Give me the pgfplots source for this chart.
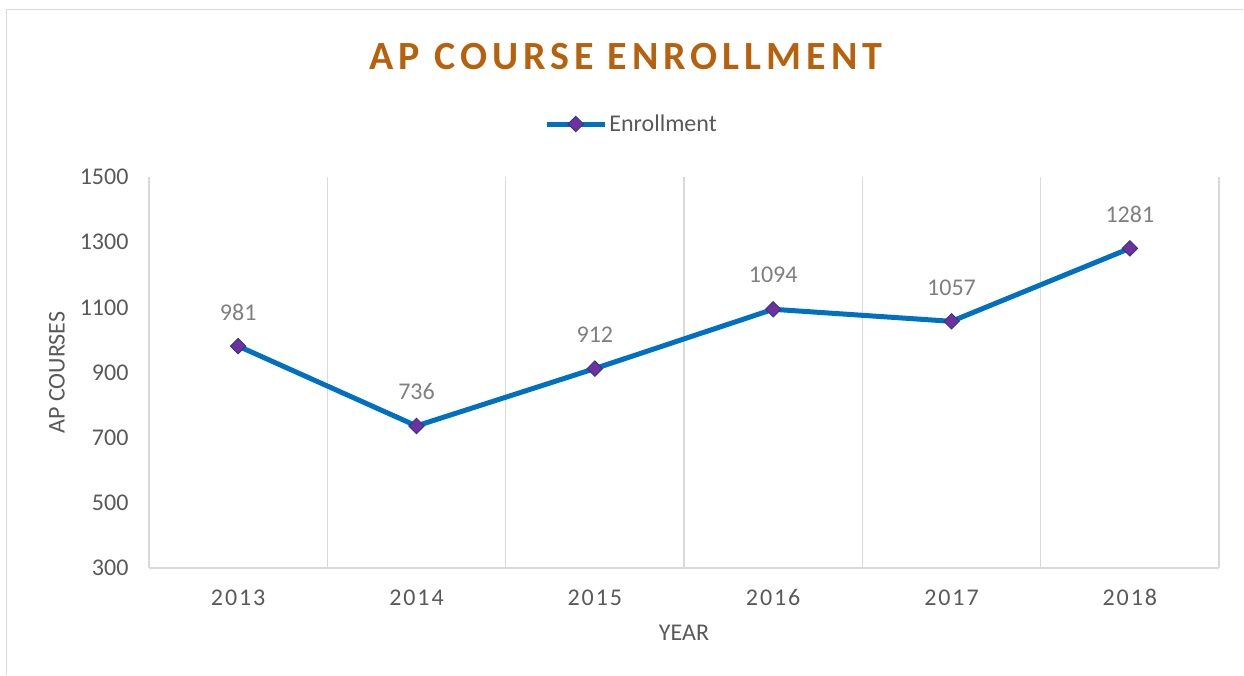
\documentclass[border=0pt]{standalone}
\usepackage{fontspec}
\setmainfont{Carlito}
\newfontfamily\titlefont[LetterSpace=12.5]{Carlito}
\newfontfamily\spacedfont[LetterSpace=8]{Carlito}
\usepackage{pgfplots}
\pgfplotsset{compat=1.18}
\definecolor{linec}{HTML}{0070C0}
\definecolor{markc}{HTML}{7030A0}
\definecolor{markedge}{HTML}{2E3A87}
\definecolor{titlec}{HTML}{B7610C}
\definecolor{gridc}{HTML}{D9D9D9}
\definecolor{textc}{HTML}{595959}
\definecolor{labelc}{HTML}{7F7F7F}

\begin{document}
\begin{tikzpicture}[x=1bp,y=1bp]
\path (0,0) rectangle (1244,675);
\draw[gridc,line width=1.5bp] (6.5,0) -- (6.5,665.5) -- (1243,665.5);
\node[anchor=base,text=titlec,font=\titlefont\bfseries\fontsize{40bp}{48bp}\selectfont] at (626,605) {AP COURSE ENROLLMENT};
\begin{axis}[
  at={(149bp,107bp)},anchor=south west,
  scale only axis,width=1070bp,height=391bp,
  xmin=-0.5,xmax=5.5,ymin=300,ymax=1500,
  xtick={0,1,2,3,4,5},
  xticklabels={2013,2014,2015,2016,2017,2018},
  ytick={300,500,700,900,1100,1300,1500},
  minor xtick={-0.5,0.5,1.5,2.5,3.5,4.5,5.5},
  xminorgrids,minor grid style={gridc,line width=1.5bp},
  major tick length=0pt,minor tick length=0pt,
  axis x line*=bottom,axis y line*=left,
  x axis line style={gridc,line width=1.5bp,-},
  y axis line style={draw=none},
  /pgf/number format/assume math mode=true,
  /pgf/number format/set thousands separator={},
  xticklabel style={font=\spacedfont\fontsize{24bp}{28bp}\selectfont,text=textc,
    text height=16bp,text depth=0pt,yshift=-18bp},
  yticklabel style={font=\fontsize{24bp}{28bp}\selectfont,text=textc,xshift=-17bp},
  xlabel={YEAR},ylabel={AP COURSES},
  xlabel style={font=\fontsize{24bp}{28bp}\selectfont,text=textc,at={(axis description cs:0.5,0)},anchor=center,yshift=-65bp},
  ylabel style={font=\fontsize{24bp}{28bp}\selectfont,text=textc,at={(axis description cs:0,0.5)},anchor=center,yshift=92bp},
  legend style={at={(0.451,1.1355)},anchor=center,draw=none,fill=none,
    font=\fontsize{24bp}{28bp}\selectfont,text=textc,inner sep=0pt},
  legend image code/.code={\draw[mark repeat=2,mark phase=2,#1] plot coordinates {(0bp,0bp) (29bp,0bp) (58bp,0bp)};},
  clip=false,
]
\addplot[linec,line width=5bp,mark=square*,
  mark options={rotate=45,fill=markc,draw=markedge,line width=1bp,solid},mark size=5.4bp,
  nodes near coords,
  nodes near coords style={font=\fontsize{24bp}{28bp}\selectfont,text=labelc,anchor=center,yshift=34bp}]
  coordinates {(0,981) (1,736) (2,912) (3,1094) (4,1057) (5,1281)};
\addlegendentry{Enrollment}
\end{axis}
\end{tikzpicture}
\end{document}
